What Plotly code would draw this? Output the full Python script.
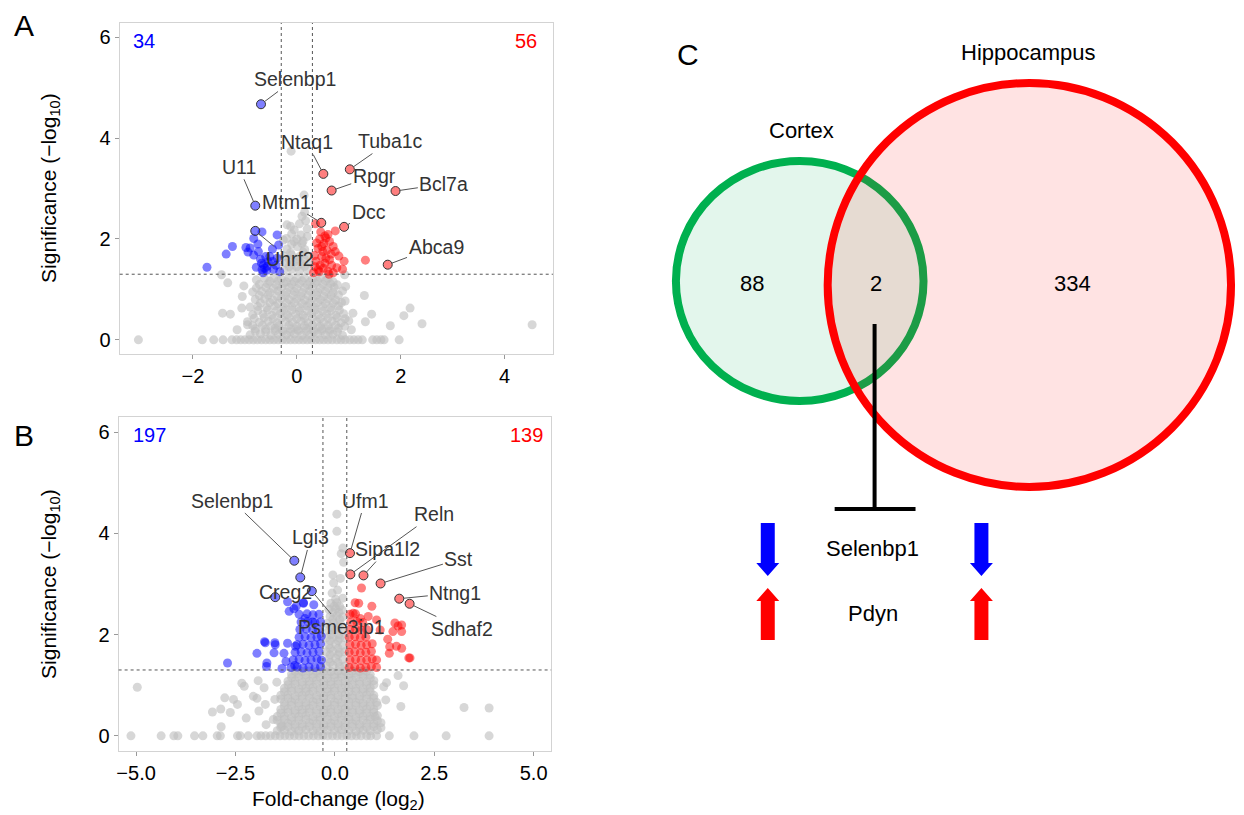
import plotly.graph_objects as go

W, H = 1244, 815
FONT = "Liberation Sans, Arial, Helvetica, sans-serif"

# ---------------- thresholds ----------------
fc_cut = 0.3
p_line = 1.30103  # -log10(0.05)

# ---------------- Panel A (cortex) ----------------
a_gray = [
    (-3.05, 0), (-1.82, 0), (-1.6, 0), (-1.42, 0), (-1.25, 0), (-1.16, 0), (-1.08, 0), (-1.0, 0), (-0.92, 0), (-0.84, 0),
    (-0.76, 0), (-0.68, 0), (-0.6, 0), (-0.52, 0), (-0.44, 0), (-0.36, 0), (-0.28, 0), (-0.2, 0), (-0.12, 0), (-0.04, 0),
    (0.04, 0), (0.12, 0), (0.2, 0), (0.28, 0), (0.36, 0), (0.44, 0), (0.52, 0), (0.6, 0), (0.68, 0), (0.77, 0), (0.85, 0),
    (0.93, 0), (1.02, 0), (1.1, 0), (1.18, 0), (1.26, 0), (1.46, 0), (1.54, 0), (1.62, 0), (1.68, 0), (1.97, 0),
    (-0.9, 0.1), (-0.7, 0.12), (-0.5, 0.09), (-0.35, 0.11), (-0.2, 0.1), (-0.05, 0.12), (0.1, 0.09), (0.25, 0.1), (0.4, 0.12), (0.55, 0.1), (0.7, 0.11), (0.88, 0.09),
    (-0.8, 0.17), (-0.6, 0.16), (-0.42, 0.18), (-0.27, 0.17), (-0.12, 0.16), (0.03, 0.18), (0.18, 0.17), (0.33, 0.16), (0.48, 0.18), (0.63, 0.17), (0.78, 0.16),
    (-1.15, 0.2), (-0.8, 0.22), (-0.6, 0.21), (-0.42, 0.23), (-0.28, 0.2), (-0.12, 0.22), (0.02, 0.21), (0.18, 0.23), (0.32, 0.2), (0.48, 0.22), (0.63, 0.21), (0.8, 0.23), (1.05, 0.2),
    (-0.85, 0.28), (-0.66, 0.29), (-0.5, 0.27), (-0.35, 0.28), (-0.15, 0.29), (0.0, 0.27), (0.15, 0.28), (0.3, 0.29), (0.45, 0.27), (0.6, 0.28), (0.75, 0.29), (0.92, 0.27),
    (-0.95, 0.36), (-0.72, 0.35), (-0.55, 0.37), (-0.38, 0.34), (-0.22, 0.36), (-0.08, 0.35), (0.08, 0.37), (0.22, 0.34), (0.38, 0.36), (0.52, 0.35), (0.68, 0.37), (0.85, 0.34), (1.0, 0.38),
    (-0.82, 0.43), (-0.63, 0.44), (-0.46, 0.42), (-0.3, 0.43), (-0.15, 0.44), (0.0, 0.42), (0.15, 0.43), (0.3, 0.44), (0.45, 0.42), (0.6, 0.43), (0.77, 0.44), (0.93, 0.42),
    (-0.85, 0.5), (-0.65, 0.51), (-0.48, 0.49), (-0.32, 0.52), (-0.18, 0.5), (-0.02, 0.51), (0.12, 0.49), (0.28, 0.52), (0.42, 0.5), (0.58, 0.51), (0.75, 0.49), (0.9, 0.52),
    (-0.75, 0.58), (-0.56, 0.59), (-0.4, 0.57), (-0.25, 0.58), (-0.1, 0.59), (0.05, 0.57), (0.2, 0.58), (0.35, 0.59), (0.5, 0.57), (0.66, 0.58), (0.82, 0.59),
    (-0.9, 0.65), (-0.75, 0.66), (-0.58, 0.64), (-0.42, 0.67), (-0.26, 0.65), (-0.1, 0.66), (0.05, 0.64), (0.2, 0.67), (0.35, 0.65), (0.5, 0.66), (0.65, 0.64), (0.8, 0.67),
    (-0.7, 0.73), (-0.52, 0.74), (-0.36, 0.72), (-0.2, 0.73), (-0.05, 0.74), (0.1, 0.72), (0.25, 0.73), (0.4, 0.74), (0.55, 0.72), (0.7, 0.73), (0.86, 0.74),
    (-0.8, 0.8), (-0.62, 0.81), (-0.46, 0.79), (-0.3, 0.82), (-0.15, 0.8), (0.0, 0.81), (0.15, 0.79), (0.3, 0.82), (0.45, 0.8), (0.6, 0.81), (0.75, 0.79),
    (-0.72, 0.88), (-0.55, 0.89), (-0.38, 0.87), (-0.22, 0.88), (-0.07, 0.89), (0.08, 0.87), (0.22, 0.88), (0.38, 0.89), (0.52, 0.87), (0.66, 0.88), (0.8, 0.89),
    (-0.85, 0.95), (-0.68, 0.96), (-0.52, 0.94), (-0.36, 0.97), (-0.2, 0.95), (-0.05, 0.96), (0.1, 0.94), (0.25, 0.97), (0.4, 0.95), (0.55, 0.96), (0.7, 0.94), (0.88, 0.97),
    (-0.78, 1.03), (-0.6, 1.04), (-0.45, 1.02), (-0.3, 1.03), (-0.15, 1.04), (0.0, 1.02), (0.15, 1.03), (0.3, 1.04), (0.45, 1.02), (0.6, 1.03), (0.72, 1.04),
    (-0.72, 1.1), (-0.56, 1.11), (-0.4, 1.09), (-0.25, 1.12), (-0.1, 1.1), (0.05, 1.11), (0.2, 1.09), (0.35, 1.12), (0.5, 1.1), (0.65, 1.11), (0.78, 1.09),
    (-0.52, 1.16), (-0.36, 1.17), (-0.2, 1.15), (-0.05, 1.16), (0.1, 1.17), (0.25, 1.15), (0.4, 1.16), (0.55, 1.17), (0.7, 1.15),
    (-0.62, 1.22), (-0.45, 1.23), (-0.3, 1.21), (-0.15, 1.24), (0.0, 1.22), (0.15, 1.23), (0.3, 1.21), (0.45, 1.24), (0.6, 1.22),
    (4.53, 0.3), (2.18, 0.63), (2.06, 0.48), (2.41, 0.32), (1.8, 0.28), (1.44, 0.51), (1.3, 0.88), (1.32, 0.36), (0.93, 0.77),
    (0.94, 1.06), (1.08, 0.53), (0.92, 1.29), (-1.33, 1.13), (-1.45, 1.29), (-1.02, 1.07), (-1.43, 0.53), (-1.28, 0.51),
    (-1.06, 0.63), (-0.95, 0.3), (-1.05, 0.86), (-0.78, 1.19),
    (-0.25, 1.38), (-0.1, 1.4), (0.05, 1.37), (0.2, 1.39), (-0.15, 1.45), (0.0, 1.45), (0.15, 1.46),
    (-0.2, 1.52), (-0.05, 1.54), (0.1, 1.51), (0.25, 1.53), (-0.15, 1.6), (0.0, 1.61), (0.15, 1.6),
    (-0.25, 1.66), (-0.1, 1.68), (0.05, 1.65), (0.2, 1.67), (-0.12, 1.73), (0.12, 1.74), (-0.19, 1.8), (0.01, 1.85),
    (0.15, 1.79), (-0.1, 1.9), (0.1, 1.91), (-0.26, 1.98), (-0.05, 1.95), (0.12, 1.96), (0.0, 2.0), (-0.2, 2.01),
    (0.2, 2.05), (0.08, 2.08), (-0.1, 2.1), (-0.05, 2.18), (0.2, 2.2), (-0.12, 2.25), (-0.19, 2.28), (0.05, 2.3),
    (0.17, 2.36), (0.1, 2.45), (0.15, 2.53), (0.14, 2.87), (-0.11, 3.74),
]
a_down = [
    (-1.73, 1.44), (-1.36, 1.70), (-1.24, 1.85), (-0.98, 1.83), (-0.90, 1.82), (-0.83, 2.01), (-0.67, 2.14), (-0.38, 2.08),
    (-0.47, 1.80), (-0.35, 1.88), (-0.94, 1.74), (-0.74, 1.75), (-0.60, 1.65), (-0.64, 1.49), (-0.57, 1.46), (-0.78, 1.44),
    (-0.67, 1.39), (-0.47, 1.56), (-0.33, 1.35), (-0.52, 1.65), (-0.70, 1.60), (-0.83, 1.68), (-0.62, 1.42), (-0.68, 1.52),
    (-0.58, 1.38), (-0.45, 1.40), (-0.38, 1.62), (-0.75, 1.90), (-0.55, 1.55), (-0.65, 1.33), (-0.40, 1.48),
]
a_up = [
    (0.36, 2.30), (0.74, 2.16), (1.32, 1.58), (0.91, 1.56), (0.88, 1.40), (0.81, 1.66), (0.70, 1.85), (0.60, 2.09),
    (0.54, 2.06), (0.44, 2.00), (0.52, 1.91), (0.41, 1.81), (0.63, 1.95), (0.58, 1.78), (0.48, 1.65), (0.37, 1.56),
    (0.54, 1.52), (0.67, 1.48), (0.41, 1.39), (0.60, 1.36), (0.77, 1.43), (0.32, 1.33), (0.74, 1.75), (0.34, 1.67),
    (0.63, 1.59), (0.51, 1.42), (0.70, 1.33), (0.56, 2.02), (0.46, 2.14), (0.45, 1.48), (0.38, 1.92), (0.66, 1.70),
    (0.50, 1.75), (0.43, 1.35), (0.56, 1.62), (0.35, 1.45), (0.62, 1.30), (0.48, 1.85),
]
a_genes = ["Selenbp1", "Ntaq1", "Tuba1c", "Rpgr", "Bcl7a", "U11", "Mtm1", "Dcc", "Abca9", "Uhrf2"]
a_lfc = [-0.69, 0.51, 1.02, 0.67, 1.90, -0.80, 0.47, 0.91, 1.75, -0.80]
a_sig = [4.67, 3.29, 3.38, 2.96, 2.95, 2.66, 2.32, 2.24, 1.49, 2.16]
a_counts = [34, 56]

# ---------------- Panel B (hippocampus) ----------------
b_gray = [
    (-5.13, 0), (-4.37, 0), (-4.05, 0), (-3.95, 0), (-3.53, 0), (-3.32, 0), (-2.96, 0), (-2.88, 0), (-2.45, 0), (-2.38, 0),
    (-2.18, 0), (-1.96, 0), (-1.86, 0), (-1.74, 0), (-1.62, 0), (-1.5, 0), (-1.38, 0), (-1.26, 0), (-1.14, 0), (-1.02, 0),
    (-0.9, 0), (-0.78, 0), (-0.66, 0), (-0.54, 0), (-0.42, 0), (-0.3, 0), (-0.18, 0), (-0.06, 0), (0.06, 0), (0.18, 0),
    (0.3, 0), (0.42, 0), (0.54, 0), (0.66, 0), (0.8, 0), (0.9, 0), (1.05, 0), (1.37, 0), (1.99, 0), (2.8, 0), (3.88, 0),
    (-1.45, 0.1), (-1.27, 0.11), (-1.09, 0.09), (-0.91, 0.1), (-0.73, 0.12), (-0.55, 0.1), (-0.37, 0.09), (-0.19, 0.11), (-0.01, 0.1), (0.17, 0.12), (0.35, 0.1), (0.53, 0.09), (0.71, 0.11), (0.89, 0.1), (1.07, 0.12),
    (-1.36, 0.17), (-1.18, 0.18), (-1.0, 0.16), (-0.82, 0.17), (-0.64, 0.18), (-0.46, 0.16), (-0.28, 0.17), (-0.1, 0.18), (0.08, 0.16), (0.26, 0.17), (0.44, 0.18), (0.62, 0.16), (0.8, 0.17), (0.98, 0.18), (1.16, 0.16),
    (-1.36, 0.24), (-1.18, 0.25), (-1.0, 0.23), (-0.82, 0.24), (-0.64, 0.26), (-0.46, 0.24), (-0.28, 0.23), (-0.1, 0.25), (0.08, 0.24), (0.26, 0.26), (0.44, 0.24), (0.62, 0.23), (0.8, 0.25), (0.98, 0.24), (1.16, 0.26),
    (-1.45, 0.31), (-1.27, 0.32), (-1.09, 0.3), (-0.91, 0.31), (-0.73, 0.32), (-0.55, 0.3), (-0.37, 0.31), (-0.19, 0.32), (-0.01, 0.3), (0.17, 0.31), (0.35, 0.32), (0.53, 0.3), (0.71, 0.31), (0.89, 0.32), (1.07, 0.3),
    (-1.45, 0.38), (-1.27, 0.39), (-1.09, 0.37), (-0.91, 0.38), (-0.73, 0.4), (-0.55, 0.38), (-0.37, 0.37), (-0.19, 0.39), (-0.01, 0.38), (0.17, 0.4), (0.35, 0.38), (0.53, 0.37), (0.71, 0.39), (0.89, 0.38), (1.07, 0.4),
    (-1.36, 0.45), (-1.18, 0.46), (-1.0, 0.44), (-0.82, 0.45), (-0.64, 0.46), (-0.46, 0.44), (-0.28, 0.45), (-0.1, 0.46), (0.08, 0.44), (0.26, 0.45), (0.44, 0.46), (0.62, 0.44), (0.8, 0.45), (0.98, 0.46),
    (-1.36, 0.52), (-1.18, 0.53), (-1.0, 0.51), (-0.82, 0.52), (-0.64, 0.54), (-0.46, 0.52), (-0.28, 0.51), (-0.1, 0.53), (0.08, 0.52), (0.26, 0.54), (0.44, 0.52), (0.62, 0.51), (0.8, 0.53), (0.98, 0.52),
    (-1.27, 0.59), (-1.09, 0.6), (-0.91, 0.58), (-0.73, 0.59), (-0.55, 0.6), (-0.37, 0.58), (-0.19, 0.59), (-0.01, 0.6), (0.17, 0.58), (0.35, 0.59), (0.53, 0.6), (0.71, 0.58), (0.89, 0.59), (1.07, 0.6),
    (-1.27, 0.66), (-1.09, 0.67), (-0.91, 0.65), (-0.73, 0.66), (-0.55, 0.68), (-0.37, 0.66), (-0.19, 0.65), (-0.01, 0.67), (0.17, 0.66), (0.35, 0.68), (0.53, 0.66), (0.71, 0.65), (0.89, 0.67), (1.05, 0.66),
    (-1.36, 0.73), (-1.18, 0.74), (-1.0, 0.72), (-0.82, 0.73), (-0.64, 0.74), (-0.46, 0.72), (-0.28, 0.73), (-0.1, 0.74), (0.08, 0.72), (0.26, 0.73), (0.44, 0.74), (0.62, 0.72), (0.8, 0.73), (0.98, 0.74),
    (-1.36, 0.8), (-1.18, 0.81), (-1.0, 0.79), (-0.82, 0.8), (-0.64, 0.82), (-0.46, 0.8), (-0.28, 0.79), (-0.1, 0.81), (0.08, 0.8), (0.26, 0.82), (0.44, 0.8), (0.62, 0.79), (0.8, 0.81), (0.98, 0.8),
    (-1.27, 0.87), (-1.09, 0.88), (-0.91, 0.86), (-0.73, 0.87), (-0.55, 0.88), (-0.37, 0.86), (-0.19, 0.87), (-0.01, 0.88), (0.17, 0.86), (0.35, 0.87), (0.53, 0.88), (0.71, 0.86), (0.89, 0.87),
    (-1.27, 0.94), (-1.09, 0.95), (-0.91, 0.93), (-0.73, 0.94), (-0.55, 0.96), (-0.37, 0.94), (-0.19, 0.93), (-0.01, 0.95), (0.17, 0.94), (0.35, 0.96), (0.53, 0.94), (0.71, 0.93), (0.89, 0.95),
    (-1.18, 1.01), (-1.0, 1.02), (-0.82, 1.0), (-0.64, 1.01), (-0.46, 1.02), (-0.28, 1.0), (-0.1, 1.01), (0.08, 1.02), (0.26, 1.0), (0.44, 1.01), (0.62, 1.02), (0.8, 1.0), (0.98, 1.01),
    (-1.18, 1.08), (-1.0, 1.09), (-0.82, 1.07), (-0.64, 1.08), (-0.46, 1.1), (-0.28, 1.08), (-0.1, 1.07), (0.08, 1.09), (0.26, 1.08), (0.44, 1.1), (0.62, 1.08), (0.8, 1.07), (0.98, 1.09),
    (-1.09, 1.15), (-0.91, 1.16), (-0.73, 1.14), (-0.55, 1.15), (-0.37, 1.16), (-0.19, 1.14), (-0.01, 1.15), (0.17, 1.16), (0.35, 1.14), (0.53, 1.15), (0.71, 1.16), (0.89, 1.14),
    (-1.09, 1.22), (-0.91, 1.23), (-0.73, 1.21), (-0.55, 1.22), (-0.37, 1.24), (-0.19, 1.22), (-0.01, 1.21), (0.17, 1.23), (0.35, 1.22), (0.53, 1.24), (0.71, 1.22), (0.89, 1.21),
    (-1.0, 1.28), (-0.82, 1.27), (-0.64, 1.28), (-0.46, 1.27), (-0.28, 1.28), (-0.1, 1.27), (0.08, 1.28), (0.26, 1.27), (0.44, 1.28), (0.62, 1.27), (0.8, 1.28),
    (-4.97, 0.96), (3.25, 0.56), (3.88, 0.55), (1.66, 0.58), (1.73, 0.99), (1.59, 1.19), (1.30, 1.05), (1.23, 0.97),
    (1.28, 0.71), (1.01, 0.38), (-3.08, 0.47), (-2.87, 0.53), (-2.77, 0.75), (-2.55, 0.72), (-2.45, 0.62), (-2.63, 0.46),
    (-2.86, 0.18), (-2.23, 0.35), (-2.34, 1.04), (-2.28, 0.98), (-1.93, 1.09), (-2.05, 0.78), (-1.96, 0.74), (-1.78, 0.95),
    (-1.75, 0.62), (-1.91, 0.49), (-1.55, 0.32), (-1.51, 0.72), (-1.46, 1.06), (-1.73, 0.22), (-1.33, 0.19),
    (-0.22, 1.38), (-0.05, 1.39), (0.12, 1.37), (0.25, 1.38), (-0.12, 1.45), (0.08, 1.45), (-0.15, 1.52), (0.02, 1.53), (0.2, 1.51),
    (-0.12, 1.6), (0.08, 1.6), (-0.22, 1.66), (-0.05, 1.67), (0.12, 1.65), (0.25, 1.66), (-0.12, 1.73), (0.08, 1.73),
    (-0.15, 1.8), (0.02, 1.81), (0.2, 1.79), (-0.12, 1.88), (0.08, 1.88), (-0.22, 1.94), (-0.05, 1.95), (0.12, 1.93),
    (0.25, 1.94), (-0.1, 2.0), (0.1, 2.0), (-0.15, 2.08), (0.02, 2.09), (0.2, 2.07), (-0.1, 2.15), (0.08, 2.15),
    (-0.2, 2.22), (-0.03, 2.23), (0.14, 2.21), (-0.05, 2.3), (0.12, 2.3), (-0.12, 2.36), (0.05, 2.37), (0.2, 2.35),
    (-0.05, 2.44), (0.1, 2.44), (-0.15, 2.5), (0.02, 2.51), (0.18, 2.49), (0.12, 2.56), (-0.02, 2.56),
    (-0.1, 2.62), (0.05, 2.63), (0.2, 2.72), (0.02, 2.7), (-0.07, 2.82), (0.07, 2.88), (-0.03, 3.02),
    (0.14, 3.11), (-0.05, 3.18), (0.22, 3.43), (0.16, 3.6), (0.20, 3.71), (0.05, 4.04), (0.05, 4.38),
]
b_down = [
    (-2.70, 1.44), (-1.96, 1.63), (-1.75, 1.84), (-1.51, 1.84), (-1.53, 1.64), (-1.71, 1.44), (-1.72, 1.37), (-1.33, 1.33),
    (-1.19, 1.83), (-1.28, 1.63), (-1.23, 1.47), (-1.01, 1.39), (-0.99, 1.77), (-1.15, 2.46), (-0.97, 2.56), (-0.79, 2.62),
    (-0.53, 2.59), (-0.75, 2.32), (-0.56, 2.25), (-1.19, 2.65), (-0.79, 2.63), (-1.03, 2.51), (-1.77, 1.86), (-1.50, 1.80),
    (-1.1, 1.35), (-0.95, 1.36), (-0.8, 1.34), (-0.65, 1.36), (-0.5, 1.35), (-0.36, 1.37),
    (-1.05, 1.5), (-0.9, 1.51), (-0.75, 1.49), (-0.6, 1.5), (-0.45, 1.52), (-0.34, 1.5),
    (-1.0, 1.65), (-0.85, 1.66), (-0.7, 1.64), (-0.55, 1.65), (-0.4, 1.67),
    (-0.95, 1.8), (-0.8, 1.81), (-0.65, 1.79), (-0.5, 1.8), (-0.36, 1.82),
    (-0.9, 1.95), (-0.75, 1.96), (-0.6, 1.94), (-0.45, 1.95), (-0.34, 1.97),
    (-0.88, 2.1), (-0.72, 2.11), (-0.56, 2.09), (-0.42, 2.1),
    (-0.85, 2.25), (-0.68, 2.26), (-0.5, 2.24), (-0.36, 2.25),
    (-0.9, 2.4), (-0.7, 2.41), (-0.55, 2.39), (-0.4, 2.4),
]
b_up = [
    (1.86, 1.54), (1.55, 1.77), (1.37, 1.63), (1.46, 2.06), (1.59, 2.17), (1.68, 2.19), (1.33, 1.91), (0.93, 2.56),
    (0.60, 2.62), (0.46, 2.42), (0.64, 2.32), (1.05, 2.29), (1.14, 2.09), (0.51, 2.63), (0.67, 2.92), (0.84, 2.36),
    (1.51, 2.23), (1.68, 2.06), (1.38, 1.76), (1.68, 1.73), (1.89, 1.54), (1.05, 1.50),
    (0.36, 1.35), (0.5, 1.36), (0.64, 1.34), (0.78, 1.35), (0.92, 1.37), (1.05, 1.35),
    (0.38, 1.5), (0.52, 1.51), (0.66, 1.49), (0.8, 1.5), (0.94, 1.52),
    (0.36, 1.65), (0.5, 1.66), (0.64, 1.64), (0.78, 1.65), (0.92, 1.67),
    (0.38, 1.8), (0.52, 1.81), (0.66, 1.79), (0.8, 1.8), (0.94, 1.82),
    (0.36, 1.95), (0.5, 1.96), (0.64, 1.94), (0.78, 1.95),
    (0.38, 2.1), (0.52, 2.11), (0.66, 2.09), (0.8, 2.1),
    (0.4, 2.25), (0.55, 2.26), (0.7, 2.24), (0.38, 2.4), (0.52, 2.41),
]
b_genes = ["Selenbp1", "Lgi3", "Creg2", "Psme3ip1", "Ufm1", "Reln", "Sipa1l2", "Sst", "Ntng1", "Sdhaf2"]
b_lfc = [-1.02, -0.87, -1.50, -0.58, 0.38, 0.39, 0.72, 1.15, 1.62, 1.88]
b_sig = [3.46, 3.13, 2.74, 2.86, 3.61, 3.19, 3.17, 3.01, 2.71, 2.61]
b_counts = [197, 139]

# ---------------- Panel C (Venn) ----------------
venn_sets = ["Cortex", "Hippocampus"]
venn_counts = [88, 2, 334]          # cortex only, shared, hippocampus only
shared_genes = ["Selenbp1", "Pdyn"]
cortex_dir = ["down", "up"]
hippo_dir = ["down", "up"]

# ---------------- label placement (layout, not data) ----------------
a_label_pos = {
    "Selenbp1": (-0.04, 5.17), "Ntaq1": (0.19, 3.92), "Tuba1c": (1.8, 3.94), "Rpgr": (1.49, 3.25),
    "Bcl7a": (2.83, 3.09), "U11": (-1.12, 3.43), "Mtm1": (-0.19, 2.74), "Dcc": (1.38, 2.53),
    "Abca9": (2.68, 1.85), "Uhrf2": (-0.14, 1.60),
}
b_label_pos = {
    "Selenbp1": (-2.59, 4.65), "Lgi3": (-0.61, 3.92), "Creg2": (-1.24, 2.85), "Psme3ip1": (0.17, 2.16),
    "Ufm1": (0.76, 4.65), "Reln": (2.49, 4.38), "Sipa1l2": (1.32, 3.69), "Sst": (3.12, 3.49),
    "Ntng1": (3.03, 2.82), "Sdhaf2": (3.21, 2.11),
}

GRAY = "rgba(190,190,190,0.62)"
BLUE = "rgba(0,0,255,0.5)"
RED = "rgba(255,0,0,0.5)"
MS = 9

fig = go.Figure()


def add_panel(gray, down, up, genes, lfc, sig, xa, ya):
    for pts, col in ((gray, GRAY), (down, BLUE), (up, RED)):
        fig.add_trace(go.Scatter(
            x=[p[0] for p in pts], y=[p[1] for p in pts], mode="markers", xaxis=xa, yaxis=ya,
            marker=dict(size=MS, color=col, line=dict(width=0)), hoverinfo="skip"))
    cols = [BLUE if v < 0 else RED for v in lfc]
    fig.add_trace(go.Scatter(
        x=lfc, y=sig, mode="markers", xaxis=xa, yaxis=ya, text=genes,
        marker=dict(size=MS, color=cols, line=dict(width=1, color="#333333"))))


add_panel(a_gray, a_down, a_up, a_genes, a_lfc, a_sig, "x", "y")
add_panel(b_gray, b_down, b_up, b_genes, b_lfc, b_sig, "x2", "y2")

annotations = []
shapes = []


def label_genes(genes, lfc, sig, pos, xr, yr):
    for g, x, y in zip(genes, lfc, sig):
        tx, ty = pos[g]
        annotations.append(dict(
            x=x, y=y, ax=tx, ay=ty, xref=xr, yref=yr, axref=xr, ayref=yr, text=g,
            showarrow=True, arrowhead=0, arrowwidth=1, arrowcolor="#555555", standoff=4,
            font=dict(size=19.5, color="#333333", family=FONT)))


label_genes(a_genes, a_lfc, a_sig, a_label_pos, "x", "y")
label_genes(b_genes, b_lfc, b_sig, b_label_pos, "x2", "y2")

for xr, yr in (("x", "y"), ("x2", "y2")):
    for v in (-fc_cut, fc_cut):
        shapes.append(dict(type="line", xref=xr, yref=yr + " domain", x0=v, x1=v, y0=0, y1=1,
                           line=dict(color="#555555", width=1, dash="3px,3px")))
    shapes.append(dict(type="line", xref=xr + " domain", yref=yr, x0=0, x1=1, y0=p_line, y1=p_line,
                       line=dict(color="#555555", width=1, dash="3px,3px")))


def text_ann(x, y, xr, yr, t, size, color="black", xanchor="center", angle=0):
    annotations.append(dict(x=x, y=y, xref=xr, yref=yr, text=t, showarrow=False, textangle=angle,
                            xanchor=xanchor, yanchor="middle",
                            font=dict(size=size, color=color, family=FONT)))


# count labels
for (dn, upc), xr, yr, fx in ((a_counts, "x", "y", (0.025, 0.967)), (b_counts, "x2", "y2", (0.029, 0.985))):
    text_ann(fx[0], 0.945, xr + " domain", yr + " domain", str(dn), 20, "#0000ff", "left")
    text_ann(fx[1], 0.945, xr + " domain", yr + " domain", str(upc), 20, "#ff0000", "right")


def P(px, py):
    return px / W, 1 - py / H


for py in (188, 584):
    x, y = P(48, py)
    text_ann(x, y, "paper", "paper", "Significance (−log<sub>10</sub>)", 21, angle=-90)
x, y = P(337, 800)
text_ann(x, y, "paper", "paper", "Fold-change (log<sub>2</sub>)", 21)
for t, px, py in (("A", 22, 25), ("B", 22, 435), ("C", 687, 54)):
    x, y = P(px, py)
    text_ann(x, y, "paper", "paper", t, 30)

# ---------------- Venn diagram (x3/y3 in pixel units) ----------------
c_dom0 = 0.52
venn_geom = [  # cx, cy, rx, ry
    (799, 281, 124, 120),
    (1029, 285, 202, 202),
]
fills = ["rgba(0,170,80,0.11)", "rgba(255,0,0,0.11)"]
lines = ["#00b04f", "#ff0000"]
for (cx, cy, rx, ry), fc, lc in zip(venn_geom, fills, lines):
    shapes.append(dict(type="circle", xref="x3", yref="y3", x0=cx - rx, x1=cx + rx, y0=cy - ry, y1=cy + ry,
                       fillcolor=fc, line=dict(color=lc, width=8)))

for t, px, py in zip(venn_sets, (801, 1028), (130, 52)):
    text_ann(px, py, "x3", "y3", t, 22)
for n, px in zip(venn_counts, (751, 875, 1072)):
    text_ann(px, 283, "x3", "y3", str(n), 22)

# T-bar connector
shapes.append(dict(type="line", xref="x3", yref="y3", x0=874, x1=874, y0=324, y1=509,
                   line=dict(color="black", width=4)))
shapes.append(dict(type="line", xref="x3", yref="y3", x0=834, x1=915, y0=509, y1=509,
                   line=dict(color="black", width=4)))

row_y = [(523, 576), (588, 640)]


def arrow_path(cx, top, bot, direction):
    hw, sw, hl = 11.5, 7, 13
    if direction == "down":
        hb = bot - hl
        return (f"M {cx - sw},{top} L {cx + sw},{top} L {cx + sw},{hb} L {cx + hw},{hb} "
                f"L {cx},{bot} L {cx - hw},{hb} L {cx - sw},{hb} Z")
    hb = top + hl
    return (f"M {cx},{top} L {cx + hw},{hb} L {cx + sw},{hb} L {cx + sw},{bot} "
            f"L {cx - sw},{bot} L {cx - sw},{hb} L {cx - hw},{hb} Z")


for i, g in enumerate(shared_genes):
    top, bot = row_y[i]
    for cx, d in ((767, cortex_dir[i]), (981, hippo_dir[i])):
        col = "#0000ff" if d == "down" else "#ff0000"
        shapes.append(dict(type="path", xref="x3", yref="y3", path=arrow_path(cx, top, bot, d),
                           fillcolor=col, line=dict(width=0)))
    text_ann(872, (top + bot) / 2 - 1, "x3", "y3", g, 22)

axis_common = dict(showgrid=False, zeroline=False, showline=True, mirror=True, linecolor="#d3d3d3",
                   linewidth=1.2, ticks="outside", ticklen=4, tickcolor="#999999",
                   tickfont=dict(size=20, color="black", family=FONT))

fig.update_layout(
    width=W, height=H, margin=dict(l=0, r=0, t=0, b=0), paper_bgcolor="white", plot_bgcolor="white",
    showlegend=False, font=dict(family=FONT),
    xaxis=dict(domain=[117.9 / W, 551.8 / W], range=[-3.41, 4.93], tickvals=[-2, 0, 2, 4], anchor="y", **axis_common),
    yaxis=dict(domain=[1 - 354 / H, 1 - 23 / H], range=[-0.28, 6.28], tickvals=[0, 2, 4, 6], anchor="x", **axis_common),
    xaxis2=dict(domain=[116.8 / W, 550 / W], range=[-5.44, 5.44], tickvals=[-5, -2.5, 0, 2.5, 5], tickformat=".1f",
                anchor="y2", **axis_common),
    yaxis2=dict(domain=[1 - 751 / H, 1 - 417 / H], range=[-0.3, 6.3], tickvals=[0, 2, 4, 6], anchor="x2", **axis_common),
    xaxis3=dict(domain=[c_dom0, 1], range=[c_dom0 * W, W], visible=False, anchor="y3"),
    yaxis3=dict(domain=[0, 1], range=[H, 0], visible=False, anchor="x3"),
    shapes=shapes, annotations=annotations,
)

fig.write_html("out.html", config={"displayModeBar": False},
               post_script="document.body.style.margin='0';document.body.style.overflow='hidden';")
